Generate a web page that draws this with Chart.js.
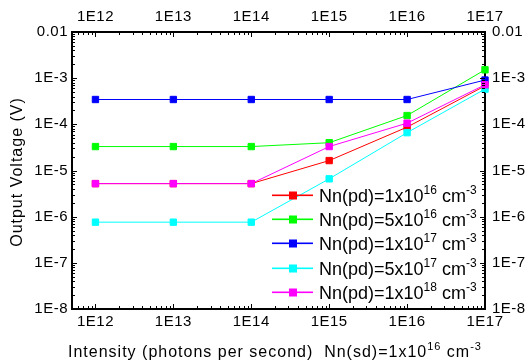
<!DOCTYPE html>
<html lang="en">
<head>
    <meta charset="UTF-8">
    <title>Output Voltage vs Intensity</title>
    <style>
        * {
            margin: 0;
            padding: 0;
            box-sizing: border-box;
        }

        body {
            background-color: #ffffff;
        }

        .chart-box {
            width: 526px;
            height: 364px;
        }
    </style>
</head>
<body>
    <div class="chart-box">
        <canvas id="voltageChart" width="526" height="364"></canvas>
    </div>

    <script src="https://cdn.jsdelivr.net/npm/chart.js"></script>
    <script>
        // Data
        const intensity = [1e12, 1e13, 1e14, 1e15, 1e16, 1e17];
        const vRed = [5.2e-6, 5.2e-6, 5.2e-6, 1.64e-5, 8.7e-5, 6.8e-4];
        const vGreen = [3.3e-5, 3.3e-5, 3.3e-5, 4.0e-5, 1.55e-4, 1.52e-3];
        const vBlue = [3.45e-4, 3.45e-4, 3.45e-4, 3.45e-4, 3.45e-4, 9.1e-4];
        const vCyan = [7.6e-7, 7.6e-7, 7.6e-7, 6.6e-6, 6.6e-5, 5.8e-4];
        const vMagenta = [5.2e-6, 5.2e-6, 5.2e-6, 3.3e-5, 1.06e-4, 7.2e-4];

        const seriesLabels = [
            'Nn(pd)=1x10^{16} cm^{-3}',
            'Nn(pd)=5x10^{16} cm^{-3}',
            'Nn(pd)=1x10^{17} cm^{-3}',
            'Nn(pd)=5x10^{17} cm^{-3}',
            'Nn(pd)=1x10^{18} cm^{-3}'
        ];
        const seriesColors = ['#ff0000', '#00ff00', '#0000ff', '#00ffff', '#ff00ff'];

        const xTicks = [1e12, 1e13, 1e14, 1e15, 1e16, 1e17];
        const xTickLabels = ['1E12', '1E13', '1E14', '1E15', '1E16', '1E17'];
        const yTicks = [1e-8, 1e-7, 1e-6, 1e-5, 1e-4, 1e-3, 1e-2];
        const yTickLabels = ['1E-8', '1E-7', '1E-6', '1E-5', '1E-4', '1E-3', '0.01'];

        const xTitle = 'Intensity (photons per second)  Nn(sd)=1x10^{16} cm^{-3}';
        const yTitle = 'Output Voltage (V)';

        const FONT = '"Liberation Sans", Arial, sans-serif';

        // text with ^{...} superscripts
        function drawRich(ctx, text, x, y, size, supSize, raise, align) {
            const parts = [];
            const re = /\^\{([^}]*)\}/g;
            let last = 0, m;
            while ((m = re.exec(text)) !== null) {
                if (m.index > last) parts.push({ t: text.slice(last, m.index), sup: false });
                parts.push({ t: m[1], sup: true });
                last = re.lastIndex;
            }
            if (last < text.length) parts.push({ t: text.slice(last), sup: false });

            let total = 0;
            parts.forEach(p => {
                ctx.font = (p.sup ? supSize : size) + 'px ' + FONT;
                p.w = ctx.measureText(p.t).width;
                total += p.w;
            });
            let cx = align === 'center' ? x - total / 2 : x;
            ctx.textAlign = 'left';
            parts.forEach(p => {
                ctx.font = (p.sup ? supSize : size) + 'px ' + FONT;
                ctx.fillText(p.t, cx, p.sup ? y - raise : y);
                cx += p.w;
            });
        }

        // inward log ticks on one side of the frame
        function drawLogTicks(ctx, scale, side, area) {
            const lo = Math.floor(Math.log10(scale.min));
            const hi = Math.ceil(Math.log10(scale.max));
            for (let d = lo; d <= hi; d++) {
                for (let k = 1; k <= 9; k++) {
                    const v = k * Math.pow(10, d);
                    if (v < scale.min * 0.999 || v > scale.max * 1.001) continue;
                    const len = k === 1 ? 5 : 3;
                    const p = Math.round(scale.getPixelForValue(v)) + 0.5;
                    ctx.beginPath();
                    if (side === 'bottom') { ctx.moveTo(p, area.bottom); ctx.lineTo(p, area.bottom - len); }
                    if (side === 'top') { ctx.moveTo(p, area.top); ctx.lineTo(p, area.top + len); }
                    if (side === 'left') { ctx.moveTo(area.left, p); ctx.lineTo(area.left + len, p); }
                    if (side === 'right') { ctx.moveTo(area.right, p); ctx.lineTo(area.right - len, p); }
                    ctx.stroke();
                }
            }
        }

        const framePlugin = {
            id: 'frame',
            beforeUpdate(chart) {
                chart.ctx.letterSpacing = '0.5px';
            },
            beforeDraw(chart) {
                chart.ctx.letterSpacing = '0.5px';
            },
            afterDraw(chart) {
                const ctx = chart.ctx;
                const a = chart.chartArea;
                ctx.save();
                ctx.strokeStyle = '#000';
                ctx.lineWidth = 1;
                drawLogTicks(ctx, chart.scales.x, 'bottom', a);
                drawLogTicks(ctx, chart.scales.x2, 'top', a);
                drawLogTicks(ctx, chart.scales.y, 'left', a);
                drawLogTicks(ctx, chart.scales.y2, 'right', a);

                // axis titles
                ctx.fillStyle = '#000';
                ctx.letterSpacing = '1px';
                ctx.textBaseline = 'alphabetic';
                drawRich(ctx, xTitle, 275, 357, 16, 11, 7, 'center');

                ctx.save();
                ctx.translate(22, 172);
                ctx.rotate(-Math.PI / 2);
                ctx.font = '16px ' + FONT;
                ctx.textAlign = 'center';
                ctx.fillText(yTitle, 0, 0);
                ctx.restore();

                // legend
                ctx.letterSpacing = '0px';
                const lx = Math.round(a.right - 213);
                const ly = a.bottom - 114;
                seriesLabels.forEach((label, i) => {
                    const ry = Math.round(ly + i * 24.2);
                    ctx.fillStyle = seriesColors[i];
                    ctx.fillRect(lx, ry - 0.5, 41, 1.6);
                    ctx.fillRect(lx + 17, ry - 3.5, 8, 8);
                    ctx.fillStyle = '#000';
                    drawRich(ctx, label, lx + 47, ry + 7, 18, 12, 8, 'left');
                });
                ctx.restore();
                ctx.letterSpacing = '0.5px';
            }
        };

        const datasetValues = [vRed, vGreen, vBlue, vCyan, vMagenta];

        const tickFont = { family: FONT, size: 15 };

        function logAxis(position, min, max, ticks, labels, fit, pad) {
            const horiz = position === 'bottom' || position === 'top';
            return {
                type: 'logarithmic',
                position: position,
                axis: horiz ? 'x' : 'y',
                min: min,
                max: max,
                grid: { display: true, drawOnChartArea: false, drawTicks: false },
                border: { display: true, color: '#000', width: 2 },
                afterBuildTicks: scale => {
                    scale.ticks = ticks.map(v => ({ value: v }));
                },
                afterFit: scale => {
                    if (horiz) scale.height = fit; else scale.width = fit;
                },
                ticks: {
                    autoSkip: false,
                    maxRotation: 0,
                    padding: pad,
                    color: '#000',
                    font: tickFont,
                    callback: (value, index) => labels[index]
                }
            };
        }

        const ctx = document.getElementById('voltageChart').getContext('2d');

        new Chart(ctx, {
            type: 'line',
            data: {
                labels: intensity,
                datasets: datasetValues.map((vals, i) => ({
                    label: seriesLabels[i],
                    data: intensity.map((x, j) => ({ x: x, y: vals[j] })),
                    borderColor: seriesColors[i],
                    backgroundColor: seriesColors[i],
                    borderWidth: 1,
                    pointStyle: 'rect',
                    pointRadius: 4.5,
                    pointBorderWidth: 1,
                    pointBackgroundColor: seriesColors[i],
                    pointBorderColor: seriesColors[i],
                    tension: 0,
                    fill: false,
                    clip: false,
                    order: 5 - i
                }))
            },
            options: {
                responsive: false,
                animation: false,
                layout: { autoPadding: false, padding: 0 },
                plugins: {
                    legend: { display: false },
                    tooltip: { enabled: false }
                },
                scales: {
                    x: logAxis('bottom', 5e11, 1e17, xTicks, xTickLabels, 55, 4),
                    x2: logAxis('top', 5e11, 1e17, xTicks, xTickLabels, 32, 6),
                    y: logAxis('left', 1e-8, 1e-2, yTicks, yTickLabels, 72, 4),
                    y2: logAxis('right', 1e-8, 1e-2, yTicks, yTickLabels, 41, 7)
                }
            },
            plugins: [framePlugin]
        });
    </script>
</body>
</html>
